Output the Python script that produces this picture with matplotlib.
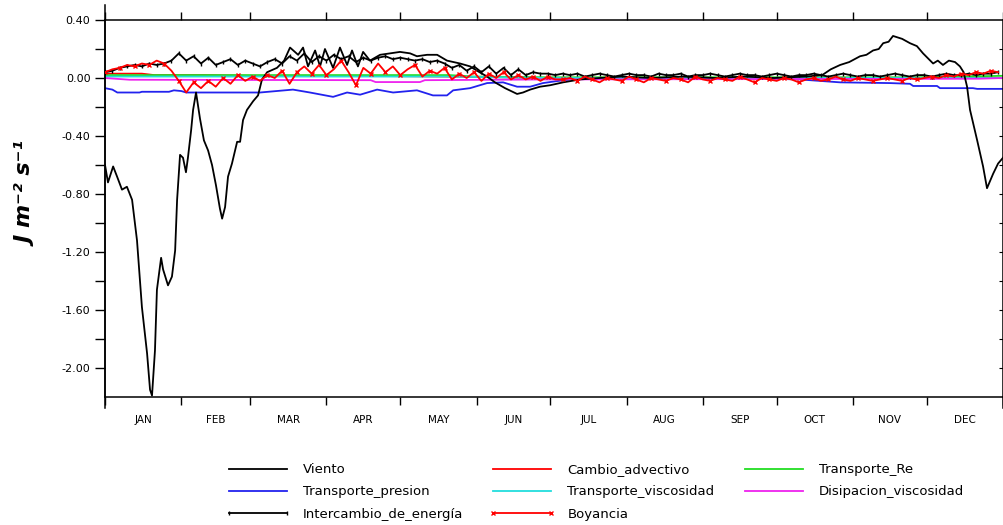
import numpy as np
import matplotlib
matplotlib.use("Agg")
import matplotlib.pyplot as plt

plt.rcParams['font.family'] = ['DejaVu Sans']
plt.rcParams['axes.unicode_minus'] = False

# month boundaries (day of year) and labels
MES_LIMITES = [0, 31, 59, 90, 120, 151, 181, 212, 243, 273, 304, 334, 365]
MESES = ["JAN", "FEB", "MAR", "APR", "MAY", "JUN", "JUL", "AUG", "SEP", "OCT", "NOV", "DEC"]

# Viento (J m-2 s-1), read at irregular days
viento_dia = [0, 1.2, 3.3, 4.9, 6.9, 8.9, 11.0, 13.0, 15.0, 17.1, 18.3, 19.1, 20.3, 21.1,
              22.8, 23.6, 25.6, 27.2, 28.5, 29.3, 30.5, 31.7, 32.9, 33.7, 35.0, 35.8, 37.0,
              38.6, 40.2, 41.9, 43.5, 45.1, 46.7, 47.6, 48.8, 50.0, 51.6, 53.7, 54.9, 56.1,
              57.7, 60.2, 62.2, 63.8, 65.9, 69.9, 72.8, 75.2, 78.5, 80.5, 82.5, 85.4, 87.4,
              89.4, 92.7, 95.5, 98.4, 100.4, 102.8, 104.9, 107.7, 111.8, 115.9, 119.9, 124.0,
              126.8, 130.9, 135.0, 139.0, 144.3, 148.4, 151.2, 155.3, 158.5, 162.6, 167.5,
              169.9, 172.8, 176.8, 180.9, 186.2, 193.1, 201.2, 210, 222, 235, 248, 260, 272,
              285, 291.5, 295, 298.8, 302.5, 306.9, 309.5, 312.2, 314.5, 316.3, 318.5, 320.3,
              324.0, 327.2, 330.0, 332.5, 336.6, 338.5, 340.6, 343.0, 345.5, 347.5, 349.0,
              350.4, 351.6, 354.5, 356.9, 358.5, 361.0, 363.0, 365]
viento = [-0.60, -0.72, -0.61, -0.68, -0.77, -0.75, -0.84, -1.12, -1.58, -1.90, -2.15, -2.19,
          -1.88, -1.46, -1.24, -1.32, -1.43, -1.37, -1.19, -0.84, -0.53, -0.55, -0.65, -0.55,
          -0.36, -0.22, -0.10, -0.28, -0.43, -0.50, -0.60, -0.74, -0.90, -0.97, -0.89, -0.68,
          -0.59, -0.44, -0.44, -0.29, -0.22, -0.16, -0.12, -0.01, 0.04, 0.07, 0.12, 0.21,
          0.16, 0.21, 0.08, 0.19, 0.08, 0.20, 0.07, 0.21, 0.09, 0.19, 0.08, 0.18, 0.12, 0.16,
          0.17, 0.18, 0.17, 0.15, 0.16, 0.16, 0.12, 0.10, 0.08, 0.05, 0.01, -0.03, -0.07,
          -0.11, -0.10, -0.08, -0.06, -0.05, -0.03, -0.01, 0.00, 0.01, 0.00, 0.01, 0.00,
          0.01, 0.00, 0.01, 0.02, 0.06, 0.09, 0.11, 0.15, 0.16, 0.19, 0.20, 0.24, 0.25, 0.29,
          0.27, 0.24, 0.22, 0.17, 0.10, 0.12, 0.09, 0.12, 0.11, 0.08, 0.04, -0.06, -0.22,
          -0.43, -0.61, -0.76, -0.66, -0.59, -0.55]

# Transporte_presion
presion_dia = [0, 3, 5, 14, 15, 26, 28, 31, 33, 50, 63, 76.4, 83.3, 92.7, 98.4, 103.7,
               110.6, 117.1, 126.8, 133.3, 139.0, 141.5, 148.4, 155.3, 161.8, 167.5, 172.8,
               178.0, 182.1, 189, 201, 270, 282.5, 298.8, 319, 327.2, 328.5, 338.2, 339.4,
               352.8, 354.5, 365]
presion = [-0.07, -0.08, -0.10, -0.10, -0.095, -0.095, -0.085, -0.09, -0.10, -0.10, -0.10,
           -0.08, -0.10, -0.13, -0.10, -0.115, -0.08, -0.10, -0.085, -0.12, -0.12, -0.085,
           -0.07, -0.035, -0.03, -0.06, -0.06, -0.035, -0.025, -0.01, 0.0, -0.005, -0.01,
           -0.03, -0.035, -0.04, -0.055, -0.055, -0.07, -0.07, -0.075, -0.075]

# Cambio_advectivo, Transporte_Re, Transporte_viscosidad, Disipacion_viscosidad
advectivo_dia = [0, 15, 20, 40, 60, 100, 140, 180, 365]
advectivo = [0.03, 0.03, 0.02, 0.02, 0.015, 0.015, 0.01, 0.0, 0.0]
re_dia = [0, 140, 150, 180, 330, 365]
re = [0.02, 0.02, 0.01, 0.005, 0.005, 0.015]
visc_dia = [0, 140, 180, 365]
visc = [0.01, 0.01, 0.0, 0.0]
disip_dia = [0, 10, 108, 110, 128, 130, 180, 355, 365]
disip = [0.0, -0.012, -0.015, -0.028, -0.028, -0.015, -0.01, -0.005, 0.0]

# Intercambio_de_energia and Boyancia, every 3 days
dias3 = list(range(0, 364, 3))
intercambio = [0.04, 0.05, 0.07, 0.08, 0.09, 0.08, 0.10, 0.09, 0.10, 0.12, 0.17, 0.12,
               0.15, 0.10, 0.14, 0.09, 0.11, 0.13, 0.09, 0.12, 0.10, 0.08, 0.11, 0.13,
               0.10, 0.15, 0.12, 0.17, 0.11, 0.15, 0.12, 0.16, 0.13, 0.15, 0.11, 0.14,
               0.12, 0.14, 0.15, 0.13, 0.14, 0.13, 0.12, 0.13, 0.11, 0.12, 0.10, 0.07,
               0.09, 0.05, 0.08, 0.04, 0.08, 0.03, 0.07, 0.02, 0.06, 0.02, 0.04, 0.03,
               0.03, 0.02, 0.03, 0.02, 0.03, 0.01, 0.02, 0.03, 0.02, 0.01, 0.02, 0.03,
               0.02, 0.02, 0.01, 0.03, 0.02, 0.02, 0.03, 0.01, 0.02, 0.02, 0.03, 0.02,
               0.01, 0.02, 0.03, 0.02, 0.02, 0.01, 0.02, 0.03, 0.02, 0.01, 0.02, 0.02,
               0.03, 0.02, 0.01, 0.02, 0.03, 0.02, 0.01, 0.02, 0.02, 0.01, 0.02, 0.03,
               0.02, 0.01, 0.02, 0.02, 0.01, 0.02, 0.03, 0.02, 0.02, 0.03, 0.02, 0.03,
               0.03, 0.04]
boyancia = [0.04, 0.06, 0.07, 0.09, 0.08, 0.10, 0.09, 0.12, 0.10, 0.05, -0.02, -0.10,
            -0.03, -0.07, -0.02, -0.06, 0.00, -0.04, 0.02, -0.02, 0.01, -0.02, 0.02, 0.00,
            0.05, -0.04, 0.04, 0.08, 0.03, 0.09, 0.02, 0.06, 0.12, 0.04, -0.05, 0.07,
            0.03, 0.10, 0.04, 0.08, 0.02, 0.06, 0.09, 0.01, 0.05, 0.03, 0.07, -0.01,
            0.03, 0.00, 0.04, -0.02, 0.03, 0.00, 0.04, -0.01, 0.02, -0.01, 0.01, -0.02,
            0.01, -0.01, -0.01, 0.00, -0.02, 0.01, -0.01, -0.03, 0.00, -0.01, -0.02, 0.01,
            -0.01, -0.03, 0.00, -0.01, -0.02, 0.00, -0.01, -0.03, 0.01, -0.01, -0.02, 0.00,
            -0.01, -0.02, 0.01, -0.01, -0.03, 0.00, -0.01, -0.02, 0.00, -0.01, -0.03, -0.01,
            0.00, -0.02, -0.01, 0.01, -0.01, -0.02, 0.00, -0.01, -0.02, -0.01, 0.00, -0.01,
            -0.02, 0.00, -0.01, 0.00, 0.01, 0.00, 0.02, 0.01, 0.03, 0.02, 0.04, 0.03,
            0.05, 0.04]


def main():
    fig = plt.figure(figsize=(10.04, 5.25), dpi=100)
    ax = fig.add_axes([0.1046, 0.2438, 0.8944, 0.7181])

    lw = 1.3
    h_viento, = ax.plot(viento_dia, viento, color="black", lw=lw, zorder=3)
    h_adv, = ax.plot(advectivo_dia, advectivo, color="red", lw=lw, zorder=2)
    h_re, = ax.plot(re_dia, re, color="#22dd22", lw=lw, zorder=2)
    h_pres, = ax.plot(presion_dia, presion, color="#2222ee", lw=lw, zorder=2)
    h_visc, = ax.plot(visc_dia, visc, color="#22dddd", lw=lw, zorder=2)
    h_disip, = ax.plot(disip_dia, disip, color="#ee22ee", lw=lw, zorder=2)
    h_inter, = ax.plot(dias3, intercambio, color="black", lw=lw, marker="|",
                       markersize=3.5, zorder=4)
    h_boy, = ax.plot(dias3, boyancia, color="red", lw=lw, marker="x",
                     markersize=3, markevery=2, zorder=5)

    ax.set_xlim(0, 365)
    ax.set_ylim(-2.2, 0.4)

    # month ticks at boundaries, labels in the middle of each month
    ax.set_xticks(MES_LIMITES)
    ax.set_xticklabels([])
    centros = [(MES_LIMITES[i] + MES_LIMITES[i + 1]) / 2 for i in range(12)]
    ax.set_xticks(centros, minor=True)
    ax.set_xticklabels(MESES, minor=True, fontsize=7.5)
    ax.tick_params(axis="x", which="major", direction="out", length=6, top=True, width=1)
    ax.tick_params(axis="x", which="minor", length=0, pad=13)

    ax.set_yticks([0.4, 0.0, -0.4, -0.8, -1.2, -1.6, -2.0])
    ax.set_yticklabels(["%.2f" % v for v in [0.4, 0.0, -0.4, -0.8, -1.2, -1.6, -2.0]], fontsize=8)
    ax.set_yticks([0.2, -0.2, -0.6, -1.0, -1.4, -1.8], minor=True)
    ax.tick_params(axis="y", which="both", direction="out", length=7, width=1)

    sec = ax.secondary_yaxis("right")
    sec.set_yticks([0.2, 0.0, -0.2, -0.4, -0.6, -0.8, -1.0, -1.2, -1.4, -1.6, -1.8, -2.0])
    sec.tick_params(direction="in", length=3, labelright=False)

    for s in ax.spines.values():
        s.set_linewidth(1.1)
    # side lines run past the frame
    ax.plot([0, 0], [-0.03, 1.04], transform=ax.transAxes, color="black", lw=1.1, clip_on=False)
    ax.plot([1, 1], [-0.03, 0], transform=ax.transAxes, color="black", lw=1.1, clip_on=False)

    fig.text(0.028, 0.63, "J m\u207b\u00b2 s\u207b\u00b9", rotation=90, fontsize=16,
             fontweight="bold", fontstyle="italic", ha="center", va="center")

    handles = [h_viento, h_pres, h_inter, h_adv, h_visc, h_boy, h_re, h_disip]
    labels = ["Viento", "Transporte_presion", "Intercambio_de_energía",
              "Cambio_advectivo", "Transporte_viscosidad", "Boyancia",
              "Transporte_Re", "Disipacion_viscosidad"]
    fig.legend(handles, labels, loc="center", bbox_to_anchor=(0.592, 0.063), ncol=3,
               frameon=False, fontsize=9.5, handlelength=5, columnspacing=2.0,
               labelspacing=0.7, handletextpad=0.9, numpoints=2)

    fig.savefig("out.png", dpi=100)


if __name__ == "__main__":
    main()
